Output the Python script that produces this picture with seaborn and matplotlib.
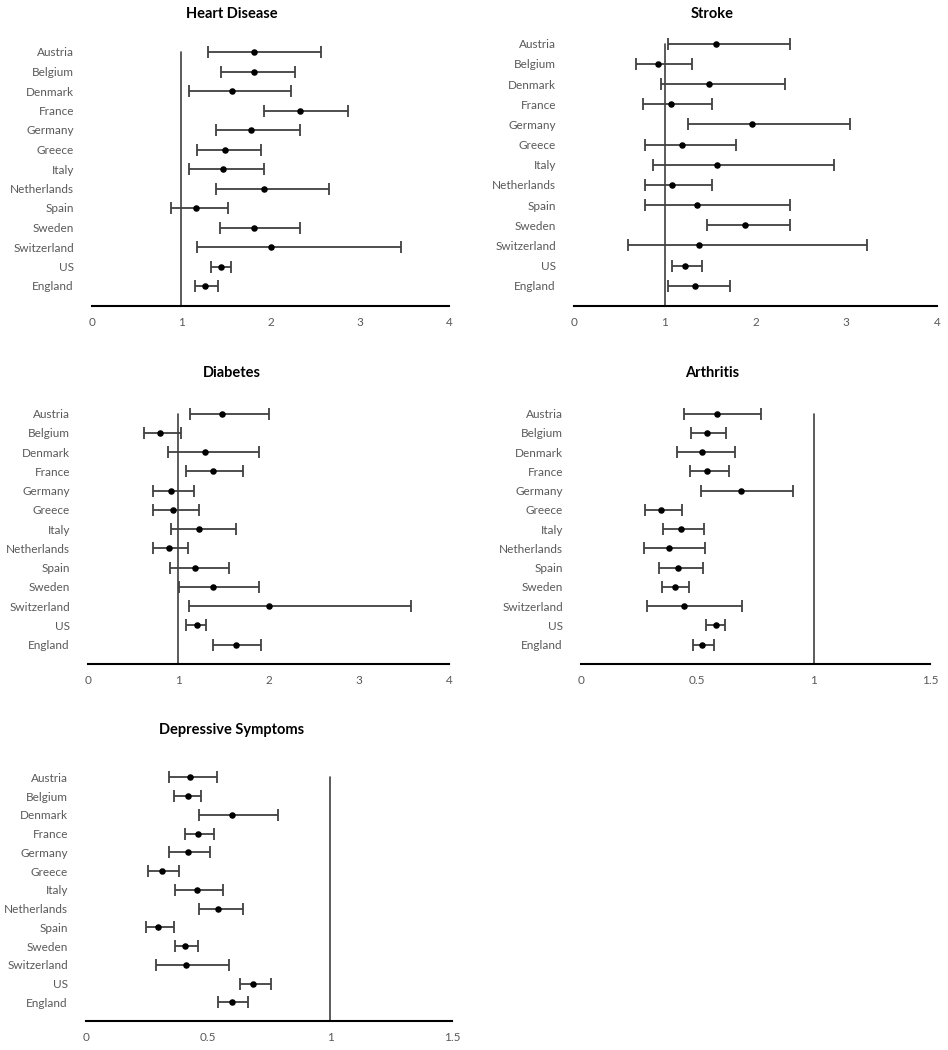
import numpy as np
import pandas as pd
import matplotlib
matplotlib.use("Agg")
import matplotlib.pyplot as plt
import seaborn as sns

countries = ["Austria", "Belgium", "Denmark", "France", "Germany", "Greece", "Italy",
             "Netherlands", "Spain", "Sweden", "Switzerland", "US", "England"]

# odds ratio, lower and upper CI per outcome
heart_or = [1.82, 1.82, 1.57, 2.33, 1.78, 1.49, 1.47, 1.93, 1.16, 1.82, 2.00, 1.44, 1.27]
heart_lo = [1.30, 1.45, 1.09, 1.93, 1.39, 1.18, 1.09, 1.39, 0.88, 1.43, 1.18, 1.33, 1.15]
heart_hi = [2.57, 2.27, 2.23, 2.87, 2.33, 1.89, 1.93, 2.65, 1.52, 2.33, 3.46, 1.56, 1.41]

stroke_or = [1.56, 0.93, 1.49, 1.07, 1.96, 1.19, 1.58, 1.08, 1.35, 1.88, 1.38, 1.22, 1.33]
stroke_lo = [1.04, 0.68, 0.96, 0.76, 1.26, 0.78, 0.87, 0.78, 0.78, 1.47, 0.59, 1.08, 1.04]
stroke_hi = [2.38, 1.30, 2.33, 1.52, 3.04, 1.79, 2.86, 1.52, 2.38, 2.38, 3.23, 1.41, 1.72]

diab_or = [1.49, 0.80, 1.30, 1.39, 0.92, 0.94, 1.23, 0.90, 1.19, 1.39, 2.00, 1.21, 1.64]
diab_lo = [1.13, 0.62, 0.89, 1.09, 0.72, 0.72, 0.92, 0.72, 0.91, 1.01, 1.12, 1.09, 1.39]
diab_hi = [2.00, 1.03, 1.89, 1.72, 1.18, 1.23, 1.64, 1.11, 1.56, 1.89, 3.58, 1.31, 1.92]

arth_or = [0.586, 0.543, 0.521, 0.543, 0.686, 0.342, 0.431, 0.378, 0.417, 0.404, 0.443, 0.579, 0.521]
arth_lo = [0.444, 0.474, 0.414, 0.468, 0.516, 0.276, 0.352, 0.269, 0.335, 0.348, 0.282, 0.539, 0.481]
arth_hi = [0.772, 0.625, 0.660, 0.636, 0.911, 0.434, 0.527, 0.531, 0.523, 0.466, 0.692, 0.620, 0.570]

dep_or = [0.427, 0.416, 0.600, 0.461, 0.416, 0.311, 0.454, 0.542, 0.297, 0.407, 0.409, 0.685, 0.598]
dep_lo = [0.342, 0.362, 0.464, 0.405, 0.342, 0.255, 0.366, 0.464, 0.246, 0.366, 0.287, 0.630, 0.543]
dep_hi = [0.536, 0.473, 0.786, 0.525, 0.508, 0.382, 0.562, 0.645, 0.362, 0.457, 0.587, 0.757, 0.662]

sns.set_style("white")
plt.rcParams['font.family'] = ['Lato', 'DejaVu Sans']

W, H = 948, 1050
fig = plt.figure(figsize=(W / 100, H / 100), dpi=100)

grey = "#595959"
barcol = "#404040"


def frac_box(x0, x1, ybot, ytop):
    return [x0 / W, 1 - ybot / H, (x1 - x0) / W, (ybot - ytop) / H]


def forest(box, title, title_xy, orr, lo, hi, xmax, xticks, xticklabels):
    ax = fig.add_axes(box)
    df = pd.DataFrame({"country": countries, "or": orr, "lo": lo, "hi": hi})
    df["pos"] = np.arange(len(countries), 0, -1)
    ax.errorbar(df["or"], df["pos"],
                xerr=[df["or"] - df["lo"], df["hi"] - df["or"]],
                fmt="none", ecolor=barcol, elinewidth=1.3, capsize=4, capthick=1.3)
    sns.scatterplot(data=df, x="or", y="pos", ax=ax, color="black", s=22,
                    edgecolor="black", linewidth=0, zorder=3)
    ax.plot([1, 1], [0, 13], color=barcol, lw=1.2, zorder=1)
    ax.set_xlim(0, xmax)
    ax.set_ylim(0, 13.5)
    ax.set_yticks(df["pos"])
    ax.set_yticklabels(df["country"], color=grey, fontsize=8.5)
    ax.set_xticks(xticks)
    ax.set_xticklabels(xticklabels, color=grey, fontsize=8.5)
    ax.tick_params(axis="y", length=0, pad=13)
    ax.tick_params(axis="x", length=0, pad=8)
    ax.set_xlabel("")
    ax.set_ylabel("")
    for s in ["left", "right", "top"]:
        ax.spines[s].set_visible(False)
    ax.spines["bottom"].set_color("black")
    ax.spines["bottom"].set_linewidth(1.5)
    fig.text(title_xy[0] / W, 1 - title_xy[1] / H, title, ha="center", va="center",
             fontsize=10.5, fontweight="bold", color="black")
    return ax


ticks4 = [0, 1, 2, 3, 4]
ticks15 = [0, 0.5, 1, 1.5]
lab4 = ["0", "1", "2", "3", "4"]
lab15 = ["0", "0.5", "1", "1.5"]

forest(frac_box(92, 449, 305.5, 42.25), "Heart Disease", (232, 14),
       heart_or, heart_lo, heart_hi, 4, ticks4, lab4)
forest(frac_box(574, 937, 306, 33.7), "Stroke", (712, 14),
       stroke_or, stroke_lo, stroke_hi, 4, ticks4, lab4)
forest(frac_box(88, 449, 664, 404), "Diabetes", (232, 373),
       diab_or, diab_lo, diab_hi, 4, ticks4, lab4)
forest(frac_box(581, 930, 664, 404), "Arthritis", (712, 373),
       arth_or, arth_lo, arth_hi, 1.5, ticks15, lab15)
forest(frac_box(86, 452, 1021, 768), "Depressive Symptoms", (232, 730),
       dep_or, dep_lo, dep_hi, 1.5, ticks15, lab15)

fig.savefig("out.png", dpi=100, facecolor="white")
